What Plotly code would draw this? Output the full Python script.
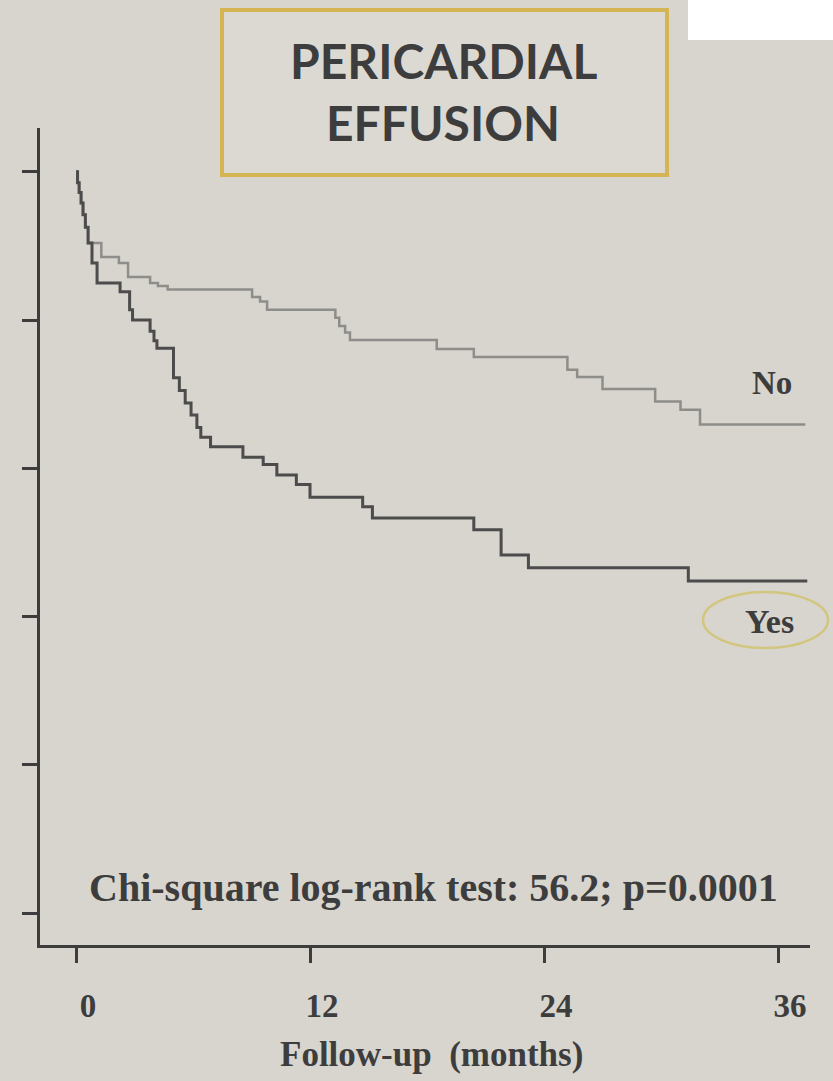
import plotly.graph_objects as go

# Kaplan-Meier survival by pericardial effusion status
months_no = [0, 0.08, 0.16, 0.26, 0.36, 0.48, 0.62, 1.3, 2.2, 2.67, 3.8, 4.2, 4.7,
             9.03, 9.44, 9.8, 13.3, 13.5, 13.8, 14.05, 18.5, 20.4, 25.2, 25.7,
             27.0, 29.7, 31.0, 32.0, 37.4]
surv_no = [1.0, 0.985, 0.972, 0.958, 0.942, 0.925, 0.904, 0.885, 0.877, 0.858, 0.850, 0.846, 0.841,
           0.831, 0.825, 0.814, 0.803, 0.792, 0.783, 0.773, 0.761, 0.750, 0.733, 0.723,
           0.707, 0.690, 0.679, 0.659, 0.659]

months_yes = [0, 0.08, 0.16, 0.26, 0.36, 0.48, 0.62, 0.82, 1.08, 2.26, 2.75, 2.9, 3.8, 4.0, 4.15,
              5.0, 5.3, 5.6, 5.9, 6.2, 6.4, 6.9, 8.56, 9.6, 10.3, 11.3, 12.0, 14.7, 15.2,
              20.4, 21.8, 23.2, 31.4, 37.5]
surv_yes = [1.0, 0.985, 0.972, 0.958, 0.942, 0.925, 0.904, 0.877, 0.850, 0.838, 0.814, 0.800, 0.785, 0.772, 0.762,
            0.722, 0.705, 0.688, 0.672, 0.655, 0.642, 0.629, 0.615, 0.605, 0.591, 0.578, 0.561, 0.548, 0.533,
            0.517, 0.483, 0.466, 0.448, 0.448]

x_ticks = [0, 12, 24, 36]
y_ticks = [0, 0.2, 0.4, 0.6, 0.8, 1.0]

title_lines = ["PERICARDIAL", "EFFUSION"]
x_title = "Follow-up\u00a0 (months)"
stat_text = "Chi-square log-rank test: 56.2; p=0.0001"

W, H = 833, 1081
L, R, T, B = 40, 23, 128, 136
PW, PH = W - L - R, H - T - B


def px(x):
    return (x - L) / PW


def py(y):
    return (H - B - y) / PH


BG = "#d8d5cf"
INK = "#3d3d3d"
SERIF = "Liberation Serif, Times New Roman, serif"

fig = go.Figure()
fig.add_trace(go.Scatter(x=months_no, y=surv_no, mode="lines", line_shape="hv",
                         line=dict(color="#8d8d8a", width=2.5), name="No",
                         showlegend=False))
fig.add_trace(go.Scatter(x=months_yes, y=surv_yes, mode="lines", line_shape="hv",
                         line=dict(color="#4c4c4c", width=3), name="Yes",
                         showlegend=False))

fig.update_layout(
    width=W, height=H,
    margin=dict(l=L, r=R, t=T, b=B, pad=0),
    paper_bgcolor=BG, plot_bgcolor=BG,
    showlegend=False,
)

fig.update_xaxes(
    range=[-1.846, 37.64], tickvals=x_ticks, ticktext=[str(v) for v in x_ticks],
    showgrid=False, zeroline=False, showline=True, linecolor=INK, linewidth=3,
    ticks="outside", ticklen=15, tickwidth=3, tickcolor=INK,
    tickfont=dict(family=SERIF, size=33, color=INK, weight="bold"),
    ticklabelstandoff=14, ticklabelshift=12,
)
fig.update_yaxes(
    range=[-0.043, 1.059], tickvals=y_ticks, showticklabels=False,
    showgrid=False, zeroline=False, showline=True, linecolor=INK, linewidth=3,
    ticks="outside", ticklen=15, tickwidth=3, tickcolor=INK,
)

# header box
fig.add_shape(type="rect", xref="paper", yref="paper",
              x0=px(222), x1=px(667), y0=py(175), y1=py(10),
              line=dict(color="#d5b453", width=4), fillcolor="#dcd9d3")
fig.add_shape(type="rect", xref="paper", yref="paper",
              x0=px(688), x1=px(840), y0=py(40), y1=py(-5),
              line=dict(width=0), fillcolor="white")

# highlight ring around the "Yes" label
fig.add_shape(type="circle", xref="paper", yref="paper",
              x0=px(703), x1=px(828), y0=py(648), y1=py(592),
              line=dict(color="#d2c67e", width=2.5))

annotations = [
    dict(text=title_lines[0], x=px(443), y=py(61),
         font=dict(family="Lato, Open Sans, sans-serif", size=48, color=INK, weight="bold")),
    dict(text=title_lines[1], x=px(443), y=py(123),
         font=dict(family="Lato, Open Sans, sans-serif", size=48, color=INK, weight="bold")),
    dict(text="No", x=px(772), y=py(383),
         font=dict(family=SERIF, size=33, color=INK, weight="bold")),
    dict(text="Yes", x=px(769), y=py(621),
         font=dict(family=SERIF, size=34, color=INK, weight="bold")),
    dict(text=stat_text, x=px(87), y=py(887), xanchor="left",
         font=dict(family=SERIF, size=40, color=INK, weight="bold")),
    dict(text=x_title, x=px(432), y=py(1054),
         font=dict(family=SERIF, size=35, color=INK, weight="bold")),
]
for a in annotations:
    a.setdefault("xanchor", "center")
    fig.add_annotation(xref="paper", yref="paper", yanchor="middle",
                       showarrow=False, **a)

fig.write_html("out.html")
